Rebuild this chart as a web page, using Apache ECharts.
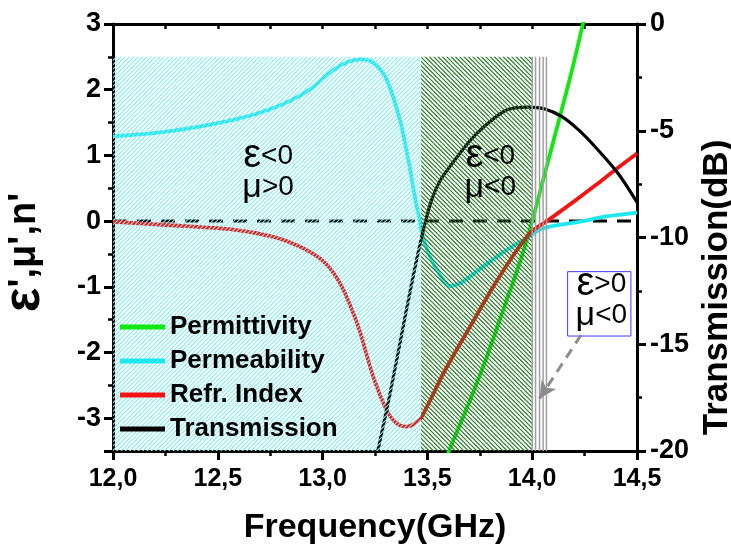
<!DOCTYPE html>
<html>
<head>
<meta charset="utf-8">
<script src="https://cdn.jsdelivr.net/npm/echarts@6/dist/echarts.min.js"></script>
<style>html,body{margin:0;padding:0;background:#fff}#c{width:731px;height:549px}</style>
</head>
<body>
<div id="c"></div>
<script>
// ---- data ----
const permittivity = [[13.59,-3.62],[13.608,-3.46],[13.703,-2.73],[13.783,-2.07],[13.862,-1.35],[13.942,-0.62],[14.0,0.0],[14.06,0.72],[14.128,1.54],[14.19,2.3],[14.247,3.07],[14.26,3.25]];
const permeability = [[12.0,1.29],[12.256,1.36],[12.574,1.54],[12.765,1.72],[12.924,1.97],[13.051,2.30],[13.12,2.42],[13.18,2.46],[13.242,2.41],[13.306,2.15],[13.369,1.54],[13.409,0.93],[13.449,0.22],[13.465,0.0],[13.473,-0.18],[13.512,-0.54],[13.56,-0.82],[13.608,-0.99],[13.656,-0.95],[13.767,-0.69],[13.878,-0.44],[13.974,-0.26],[14.053,-0.11],[14.228,-0.01],[14.35,0.07],[14.5,0.13]];
const refrIndex = [[12.0,-0.01],[12.256,-0.06],[12.574,-0.13],[12.765,-0.24],[12.892,-0.39],[12.988,-0.57],[13.05,-0.78],[13.1,-1.05],[13.15,-1.43],[13.178,-1.68],[13.242,-2.37],[13.306,-2.88],[13.35,-3.07],[13.401,-3.13],[13.44,-3.08],[13.473,-2.98],[13.576,-2.32],[13.703,-1.61],[13.814,-1.0],[13.91,-0.52],[13.96,-0.3],[14.0,-0.15],[14.07,0.0],[14.2,0.3],[14.3,0.54],[14.4,0.79],[14.5,1.03]];
const transmission = [[13.255,-20.4],[13.266,-19.87],[13.32,-17.4],[13.37,-14.9],[13.42,-12.4],[13.473,-9.96],[13.52,-8.24],[13.56,-7.35],[13.608,-6.67],[13.7,-5.5],[13.77,-4.81],[13.88,-4.02],[13.98,-3.89],[14.06,-3.98],[14.14,-4.33],[14.22,-4.95],[14.30,-5.75],[14.41,-7.0],[14.5,-8.35]];
const zeroLine = [[12.0,0],[14.5,0]];
const seriesNames = ['Permittivity','Permeability','Refr. Index','Transmission'];
const xTickLabels = {'12':'12,0','12.5':'12,5','13':'13,0','13.5':'13,5','14':'14,0','14.5':'14,5'};
// shaded regions: [x start, x end, kind] ; kind 0 = eps<0 mu>0, 1 = eps<0 mu<0
const regions = [[12.0,13.47,0],[13.47,14.0,1]];
const regionTop = 2.5, regionBottom = -3.5;
const grayLines = [14.0,14.016,14.035,14.052,14.068];
// annotations: [x, y, text] in data coords
const annotations = [[12.74,0.75,'{e|ε}{t|<0}\n{m|μ}{t|>0}'],[13.80,0.75,'{e|ε}{t|<0}\n{m|μ}{t|<0}'],[14.33,-1.2,'{e|ε}{t|>0}\n{m|μ}{t|<0}']];
const boxCorners = [[14.169,-0.77],[14.471,-1.75]];
const arrowPts = [[14.233,-1.735],[14.035,-2.7]];

const colors = ['#10e810','#1ee8ee','#f41414','#000000'];
const FF = 'Liberation Sans';

function hatch(color, dir, lw){
  const s = 13, c = document.createElement('canvas');
  c.width = s; c.height = s;
  const ctx = c.getContext('2d');
  ctx.strokeStyle = color; ctx.lineWidth = lw;
  const p = s/3;
  for (let k=-4;k<=7;k++){
    const c0 = k*p;
    ctx.beginPath();
    if (dir>0){ ctx.moveTo(c0,0); ctx.lineTo(c0-s,s); }
    else { ctx.moveTo(c0,0); ctx.lineTo(c0+s,s); }
    ctx.stroke();
  }
  return c;
}
const cyanPat = {image: hatch('#86ecf0', 1, 1.1), repeat:'repeat'};
const greenPat = {image: hatch('#2c7c2c', -1, 1.2), repeat:'repeat'};

const chart = echarts.init(document.getElementById('c'), null, {renderer:'canvas'});
const axisLineStyle = {color:'#000', width:3};
const option = {
  animation:false,
  backgroundColor:'#fff',
  textStyle:{fontFamily:FF},
  grid:{left:113, right:94, top:24, bottom:98, containLabel:false, outerBoundsMode:'none'},
  legend:{
    orient:'vertical', left:120, top:314, padding:0,
    data:seriesNames, icon:'rect', itemWidth:45, itemHeight:5, itemGap:8,
    textStyle:{fontSize:26, fontWeight:'bold', color:'#000', fontFamily:FF},
    z:10
  },
  xAxis:[{
    type:'value', position:'bottom', min:12, max:14.5, interval:0.5,
    axisLine:{onZero:false, lineStyle:axisLineStyle},
    axisTick:{length:9, lineStyle:{width:3, color:'#000'}},
    minorTick:{show:true, splitNumber:2, length:5, lineStyle:{width:2.5, color:'#000'}},
    splitLine:{show:false},
    axisLabel:{fontSize:25, fontWeight:'bold', color:'#000', margin:16, formatter:v=>xTickLabels[String(v)] || ''},
    name:'Frequency(GHz)', nameLocation:'middle', nameGap:60,
    nameTextStyle:{fontSize:34, fontWeight:'bold', color:'#000'}
  },{
    type:'value', position:'top', min:12, max:14.5, interval:0.25,
    axisLine:{onZero:false, lineStyle:axisLineStyle},
    axisTick:{inside:true, length:5, lineStyle:{width:2.5, color:'#000'}},
    axisLabel:{show:false}, splitLine:{show:false}
  }],
  yAxis:[{
    type:'value', position:'left', min:-3.5, max:3, splitNumber:6,
    axisLine:{show:true, onZero:false, lineStyle:axisLineStyle},
    axisTick:{show:true, length:9, lineStyle:{width:3, color:'#000'}},
    splitLine:{show:false},
    axisLabel:{fontSize:27, fontWeight:'bold', color:'#000', margin:12, formatter:v=>Number.isInteger(v)?String(v):''},
    name:'{e|ε}{b|\',μ\',n\'}', nameLocation:'middle', nameGap:62, nameRotate:90,
    nameTextStyle:{color:'#000', padding:[0,30,0,0], rich:{e:{fontSize:52,fontWeight:'bold',fontFamily:FF,color:'#000'}, b:{fontSize:38,fontWeight:'bold',fontFamily:FF,color:'#000'}}}
  },{
    type:'value', position:'right', min:-20, max:0, interval:5,
    axisLine:{show:true, onZero:false, lineStyle:axisLineStyle},
    axisTick:{show:true, length:9, lineStyle:{width:3, color:'#000'}},
    minorTick:{show:true, splitNumber:2, length:5, lineStyle:{width:2.5, color:'#000'}},
    splitLine:{show:false},
    axisLabel:{fontSize:27, fontWeight:'bold', color:'#000', margin:13},
    name:'Transmission(dB)', nameLocation:'middle', nameGap:58, nameRotate:90,
    nameTextStyle:{fontSize:35, fontWeight:'bold', color:'#000', padding:[0,100,0,0]}
  },{
    type:'value', position:'left', min:-3.5, max:3, interval:0.5,
    axisLine:{show:false, onZero:false},
    axisTick:{show:true, length:5, lineStyle:{width:2.5, color:'#000'}},
    axisLabel:{show:false}, splitLine:{show:false}
  }],
  series:[
    {name:'zero', type:'line', data:zeroLine, yAxisIndex:0, z:1, silent:true, showSymbol:false,
      lineStyle:{color:'#000', width:3, type:[14,10]}},
    {name:'Permittivity', type:'line', data:permittivity, yAxisIndex:0, showSymbol:false, smooth:0.3, z:2,
      lineStyle:{color:colors[0], width:3.8}, itemStyle:{color:colors[0]}},
    {name:'Permeability', type:'line', data:permeability, yAxisIndex:0, showSymbol:false, smooth:0.3, z:2,
      lineStyle:{color:colors[1], width:3.8}, itemStyle:{color:colors[1]}},
    {name:'Refr. Index', type:'line', data:refrIndex, yAxisIndex:0, showSymbol:false, smooth:0.3, z:2,
      lineStyle:{color:colors[2], width:3.8}, itemStyle:{color:colors[2]}},
    {name:'Transmission', type:'line', data:transmission, yAxisIndex:1, showSymbol:false, smooth:0.3, z:2,
      lineStyle:{color:colors[3], width:3.2}, itemStyle:{color:colors[3]}},
    {name:'regions', type:'custom', yAxisIndex:0, z:3, silent:true, data:regions,
      renderItem:function(params, api){
        const p0 = api.coord([api.value(0), regionTop]);
        const p1 = api.coord([api.value(1), regionBottom]);
        return {type:'rect', shape:{x:p0[0], y:p0[1], width:p1[0]-p0[0], height:p1[1]-p0[1]},
          style:{fill: api.value(2)===0 ? cyanPat : greenPat}};
      }},
    {name:'grayLines', type:'custom', yAxisIndex:0, z:3, silent:true, data:grayLines.map(x=>[x]),
      renderItem:function(params, api){
        const p0 = api.coord([api.value(0), regionTop]);
        const p1 = api.coord([api.value(0), regionBottom]);
        return {type:'line', shape:{x1:p0[0], y1:p0[1], x2:p1[0], y2:p1[1]},
          style:{stroke:'#a0a0a0', lineWidth:1.5}};
      }},
    {name:'notes', type:'line', data:[], yAxisIndex:0, z:5, silent:true,
      markArea:{silent:true, itemStyle:{color:'rgba(0,0,0,0)', borderColor:'#3b3bff', borderWidth:1},
        data:[[{coord:boxCorners[0]},{coord:boxCorners[1]}]]},
      markLine:{silent:true, label:{show:false}, symbol:['none','arrow'], symbolSize:[13,17],
        lineStyle:{color:'#8c8c8c', width:3, type:[10,7]},
        data:[[{coord:arrowPts[0]},{coord:arrowPts[1]}]]}},
    {name:'labels', type:'custom', yAxisIndex:0, z:6, silent:true, data:annotations.map(a=>[a[0],a[1]]),
      renderItem:function(params, api){
        const p = api.coord([api.value(0), api.value(1)]);
        return {type:'text', x:p[0], y:p[1], style:{text:annotations[params.dataIndex][2], align:'center', verticalAlign:'middle',
          rich:{e:{fontSize:40, fontFamily:FF, color:'#000', lineHeight:31}, m:{fontSize:34, fontFamily:FF, color:'#000', lineHeight:31}, t:{fontSize:28, fontFamily:FF, color:'#000', lineHeight:31}}}};
      }}
  ]
};
chart.setOption(option);
</script>
</body>
</html>
